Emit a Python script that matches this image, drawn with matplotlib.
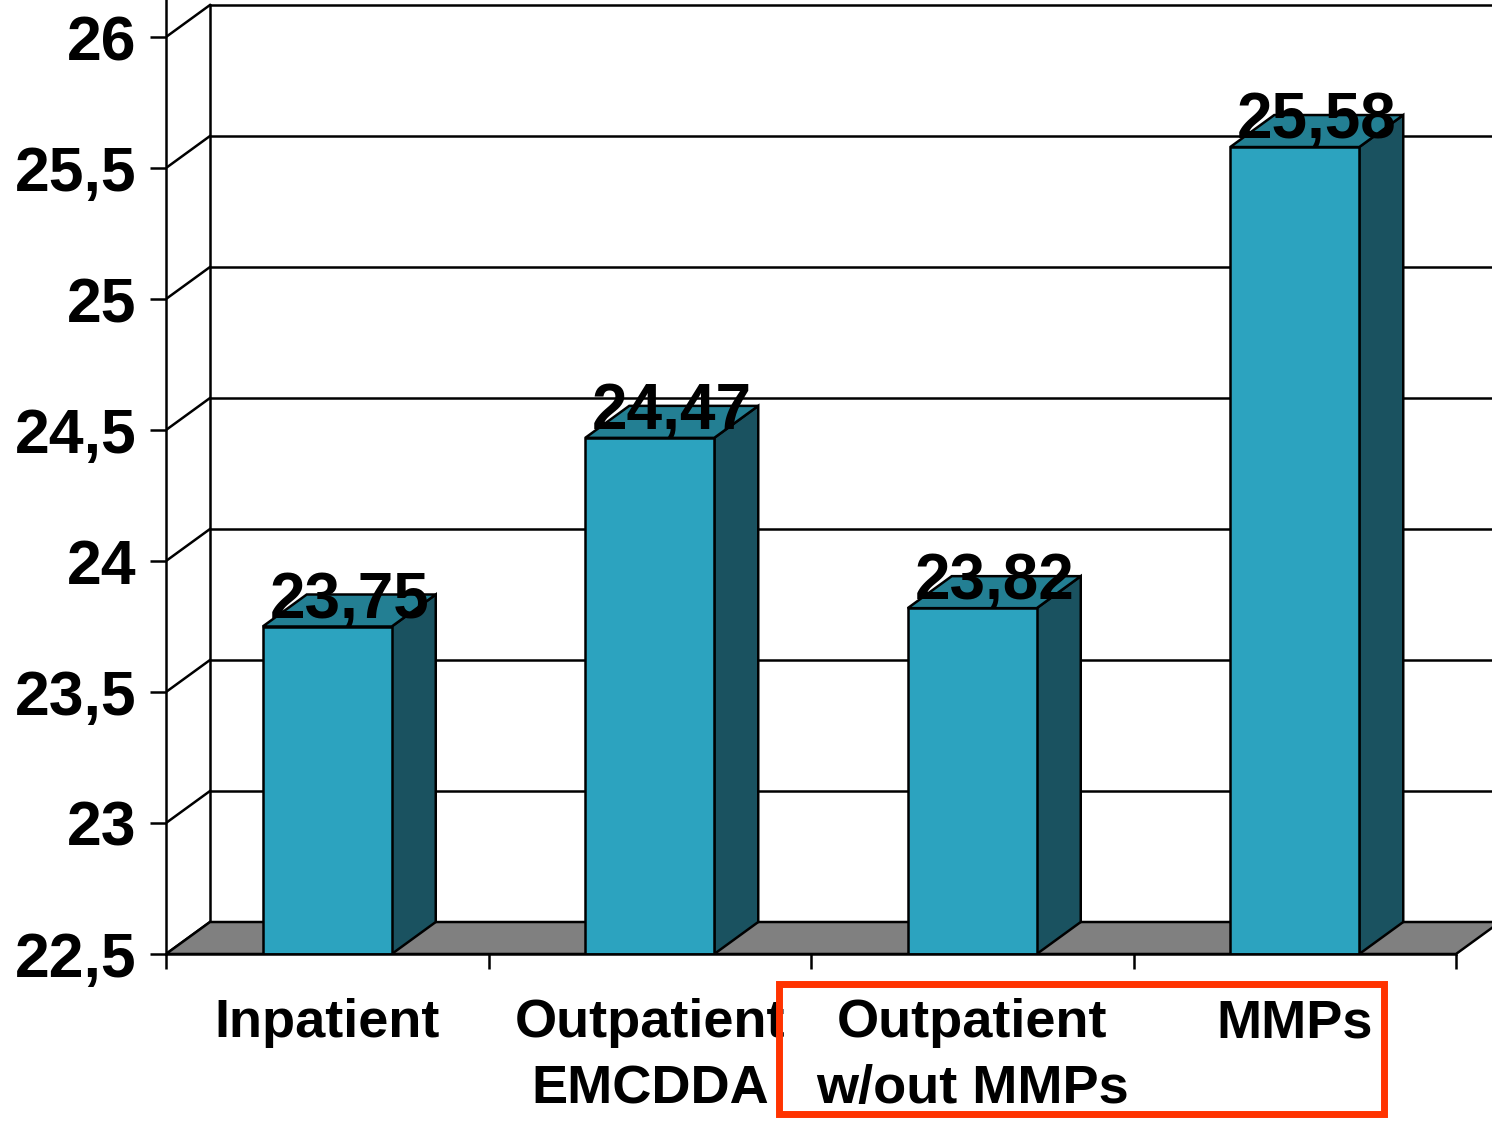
"""
3D-style bar chart: mean age by treatment setting
"""

from matplotlib import pyplot as plt
from matplotlib.patches import Polygon, Rectangle
import numpy as np

plt.rcParams['font.family'] = ['Liberation Sans', 'DejaVu Sans']

# Data
categories = ["Inpatient", "Outpatient\nEMCDDA", "Outpatient\nw/out MMPs", "MMPs"]
values = [23.75, 24.47, 23.82, 25.58]
y_ticks = [22.5, 23, 23.5, 24, 24.5, 25, 25.5, 26]
y_tick_labels = ["22,5", "23", "23,5", "24", "24,5", "25", "25,5", "26"]

FRONT = "#2CA3BF"
SIDE = "#1A5260"
TOP = "#237F93"
FLOOR = "#808080"
LW = 1.8

W, H = 1492, 1121
fig = plt.figure(figsize=(W / 100, H / 100), dpi=100)
# axes box: front y axis at x=166 px, floor front edge at y=954 px
ax = fig.add_axes([166 / W, (H - 954) / H, (W - 166) / W, 954 / H])
cat_px = 322.5   # pixels per category
unit_px = 262.0  # pixels per y unit
ymin = 22.5
ax.set_xlim(0, (W - 166) / cat_px)
ax.set_ylim(ymin, ymin + 954 / unit_px)

dx = 44 / cat_px   # depth offset, x
dy = 32 / unit_px  # depth offset, y
n = len(categories)

# back wall, gridlines and diagonals
ax.plot([dx, dx], [ymin + dy, y_ticks[-1] + dy], color="black", lw=LW, zorder=1)
for v in y_ticks:
    ax.plot([dx, 10], [v + dy, v + dy], color="black", lw=LW, zorder=1)
    ax.plot([0, dx], [v, v + dy], color="black", lw=LW, zorder=1)

# floor
ax.add_patch(Polygon([(0, ymin), (n, ymin), (n + dx, ymin + dy), (dx, ymin + dy)],
                     closed=True, facecolor=FLOOR, edgecolor="black", lw=LW, zorder=2))

# bars
bw = 0.4
for i, v in enumerate(values):
    x0 = i + 0.5 - bw / 2
    x1 = x0 + bw
    ax.add_patch(Polygon([(x1, ymin), (x1 + dx, ymin + dy), (x1 + dx, v + dy), (x1, v)],
                         closed=True, facecolor=SIDE, edgecolor="black", lw=LW, zorder=3))
    ax.add_patch(Polygon([(x0, v), (x1, v), (x1 + dx, v + dy), (x0 + dx, v + dy)],
                         closed=True, facecolor=TOP, edgecolor="black", lw=LW, zorder=3))
    ax.add_patch(Rectangle((x0, ymin), bw, v - ymin, facecolor=FRONT,
                           edgecolor="black", lw=LW, zorder=4))
    ax.text(i + 0.5 + dx / 2, v + 9 / unit_px, f"{v:.2f}".replace(".", ","),
            ha="center", va="baseline", fontsize=46, fontweight="bold", zorder=5)

# axes, ticks
for s in ["top", "right"]:
    ax.spines[s].set_visible(False)
for s in ["left", "bottom"]:
    ax.spines[s].set_linewidth(LW)
    ax.spines[s].set_zorder(6)
ax.spines["bottom"].set_bounds(0, n)
ax.set_yticks(y_ticks, y_tick_labels, fontsize=45, fontweight="bold")
ax.set_xticks(np.arange(n + 1), [""] * (n + 1))
ax.tick_params(axis="y", length=11.5, width=LW, pad=9.5)
ax.tick_params(axis="x", length=11, width=LW)
ax.patch.set_visible(False)

# category labels, one line at a time
for i, lab in enumerate(categories):
    for k, line in enumerate(lab.split("\n")):
        ax.text(i + 0.5, ymin - (83 + 66 * k) / unit_px, line, ha="center",
                va="baseline", fontsize=39, fontweight="bold", clip_on=False)

# red highlight box round the last two groups
ax.add_patch(Rectangle((1.902, 21.891), 1.876, 0.496, fill=False,
                       edgecolor="#FF3300", lw=5, clip_on=False, zorder=7))

fig.savefig("out.png", dpi=100)
